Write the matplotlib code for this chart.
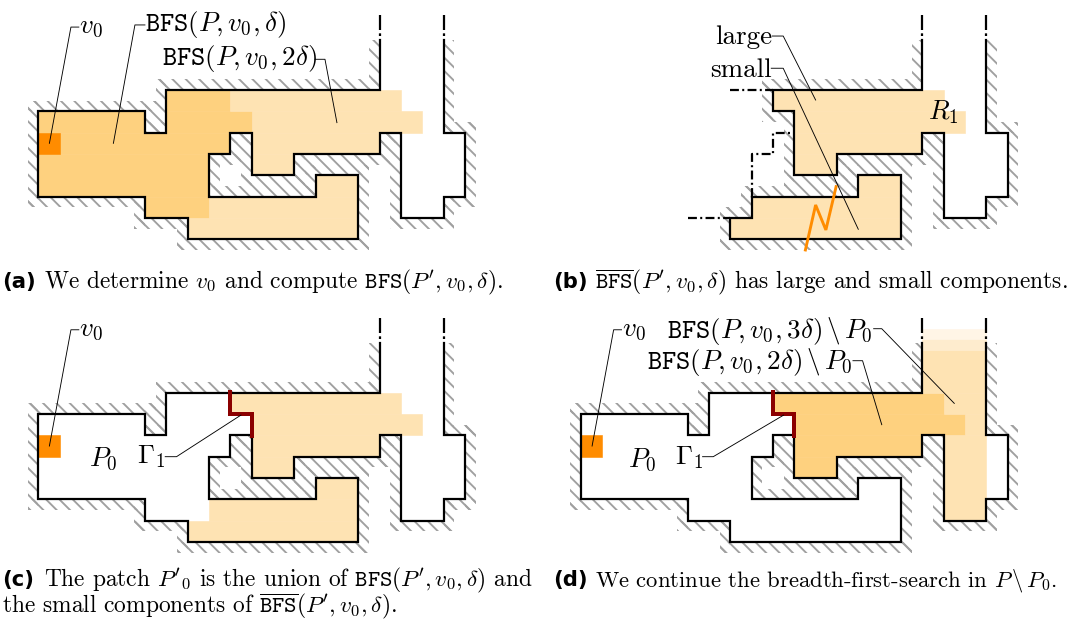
import matplotlib
matplotlib.use('Agg')
import matplotlib.pyplot as plt
from matplotlib.patches import Polygon, Rectangle
import numpy as np

plt.rcParams['mathtext.fontset'] = 'cm'
plt.rcParams['hatch.linewidth'] = 1.7
plt.rcParams['lines.scale_dashes'] = False

W, H, DPI = 1067, 619, 80
U = 21.33  # one grid cell in pixels

# polygon P, open at the top corridor; the inside lies to the right when walking along it
WALL_X = [16, 16, 6, 6, 5, 5, 0, 0, 5, 5, 7, 7, 15, 15, 13, 13, 8, 8, 9, 9, 10, 10, 12, 12, 16, 16, 17, 17, 19, 19, 20, 20, 19, 19]
WALL_Y = [-2.35, 0, 0, 2, 2, 1, 1, 5, 5, 6, 6, 7, 7, 4, 4, 5, 5, 3, 3, 2, 2, 4, 4, 3, 3, 2, 2, 6, 6, 5, 5, 2, 2, -2.35]

# components of the complement in (b)
LARGE_X = [16, 16, 9, 9, 10, 10, 12, 12, 16, 16, 17, 17, 19, 19, 20, 20, 19, 19]
LARGE_Y = [-2.35, 0, 0, 1, 1, 4, 4, 3, 3, 2, 2, 6, 6, 5, 5, 2, 2, -2.35]
SMALL_X = [8, 8, 7, 7, 15, 15, 13, 13, 8]
SMALL_Y = [5, 6, 6, 7, 7, 4, 4, 5, 5]

# cut-off walls drawn dash-dotted in (b)
CUTS = [([7, 9], [0, 0]),
        ([8, 8, 9, 9, 10], [5, 3, 3, 2, 2]),
        ([5, 7], [6, 6])]

# cells (x0, y0, x1, y1)
BFS1 = [(6, 0, 9, 1), (0, 1, 5, 2), (6, 1, 10, 2), (0, 2, 9, 3), (0, 3, 8, 5), (5, 5, 8, 6)]
BFS2 = [(9, 0, 17, 1), (10, 1, 18, 2), (10, 2, 16, 3), (10, 3, 12, 4),
        (13, 4, 15, 5), (8, 5, 15, 6), (7, 6, 15, 7)]
BFS2_LARGE = BFS2[:4]
BFS3 = [(16, -2, 19, 0), (17, 0, 19, 1), (18, 1, 19, 2), (17, 2, 19, 6)]
FADE = [(16, -2.5, 19, -2), (16, -3, 19, -2.5)]
V0 = (0, 2, 1, 3)

GAMMA_X = [9, 9, 10, 10]
GAMMA_Y = [-0.05, 1, 1, 2.05]
ZIG_X = [11.96, 11.48, 11.0, 10.52]
ZIG_Y = [4.53, 6.56, 5.39, 7.5]

ORIGINS = {'a': (38.3, 90), 'b': (581, 90), 'c': (38.3, 392.7), 'd': (581, 392.7)}

C_DARK = '#fed17f'
C_LIGHT = '#fee3b3'
C_FADE = ['#feecce', '#fff5e6']
C_V0 = '#ff8c00'
C_HATCH = '#a0a0a0'
C_GAMMA = '#8b0000'

fig = plt.figure(figsize=(W / DPI, H / DPI), dpi=DPI)


def make_ax(x0, y0):
    gx0, gx1, gy0, gy1 = -1.7, 22.3, -4.2, 7.8
    left, right = x0 + gx0 * U, x0 + gx1 * U
    top, bottom = y0 + gy0 * U, y0 + gy1 * U
    ax = fig.add_axes([left / W, 1 - bottom / H, (right - left) / W, (bottom - top) / H])
    ax.set_xlim(gx0, gx1)
    ax.set_ylim(gy1, gy0)
    ax.axis('off')
    return ax


def hatch_along(ax, xs, ys, closed):
    pts = np.array(list(zip(xs, ys)), float)
    n = len(pts) - 1
    for i in range(n):
        p, q = pts[i], pts[i + 1]
        d = (q - p) / np.linalg.norm(q - p)
        nrm = np.array([-d[1], d[0]])
        e0 = 0 if (not closed and i == 0) else 0.5
        e1 = 0 if (not closed and i == n - 1) else 0.5
        a, b = p - e0 * d, q + e1 * d
        ax.add_patch(Polygon([a, b, b + 0.5 * nrm, a + 0.5 * nrm], closed=True, fill=False,
                             hatch='\\\\', edgecolor=C_HATCH, linewidth=0, zorder=1))
    ax.add_patch(Polygon(pts, closed=True, facecolor='white', edgecolor='none', zorder=2))


def cells(ax, rects, color, z=3):
    for x0, y0, x1, y1 in rects:
        ax.add_patch(Rectangle((x0, y0), x1 - x0, y1 - y0, facecolor=color,
                               edgecolor=color, linewidth=0.5, zorder=z))


def wall(ax, xs, ys):
    ax.plot(xs, ys, color='k', lw=2, solid_joinstyle='miter', solid_capstyle='projecting', zorder=6)


def corridor_tops(ax):
    for x in (16, 19):
        ax.plot([x, x], [-3.52, -2.35], color='k', lw=2, dashes=[13.5, 3, 2.4, 3.6],
                dash_capstyle='butt', zorder=6)


def leader(ax, xs, ys):
    ax.plot(xs, ys, color='k', lw=0.8, zorder=8)


LBL = 24.4
def label(ax, x, y, s, ha='left', family='cmr10'):
    ax.text(x, y, s, ha=ha, va='center', fontsize=LBL, family=family, zorder=9)


def v0_label(ax):
    label(ax, 1.9, -2.95, r'$v_0$')
    leader(ax, [1.9, 1.53, 0.52], [-2.95, -2.95, 2.5])


# (a)
ax = make_ax(*ORIGINS['a'])
hatch_along(ax, WALL_X, WALL_Y, False)
cells(ax, BFS1, C_DARK)
cells(ax, BFS2, C_LIGHT)
cells(ax, [V0], C_V0, 4)
wall(ax, WALL_X, WALL_Y)
corridor_tops(ax)
v0_label(ax)
label(ax, 5.0, -3.05, r'$\mathtt{BFS}(P, v_0, \delta)$')
leader(ax, [5.0, 4.53, 3.52], [-3.05, -3.05, 2.5])
label(ax, 5.78, -1.48, r'$\mathtt{BFS}(P, v_0, 2\delta)$')
leader(ax, [12.97, 13.44, 14.0], [-1.44, -1.44, 1.53])

# (b)
ax = make_ax(*ORIGINS['b'])
hatch_along(ax, LARGE_X, LARGE_Y, False)
hatch_along(ax, SMALL_X, SMALL_Y, True)
cells(ax, BFS2, C_LIGHT)
wall(ax, LARGE_X, LARGE_Y)
wall(ax, SMALL_X, SMALL_Y)
for xs, ys in CUTS:
    ax.plot(xs, ys, color='k', lw=2, dashes=[8, 3, 1.8, 3], zorder=6)
corridor_tops(ax)
ax.plot(ZIG_X, ZIG_Y, color=C_V0, lw=2.6, zorder=7, solid_joinstyle='miter')
label(ax, 8.95, -2.5, 'large', ha='right')
leader(ax, [8.97, 9.48, 11.0], [-2.53, -2.53, 0.47])
label(ax, 8.92, -0.95, 'small', ha='right')
leader(ax, [8.92, 9.48, 13.0], [-1.02, -1.02, 6.53])
label(ax, 17.0, 1.05, r'$R_1$', ha='center')

# (c)
ax = make_ax(*ORIGINS['c'])
hatch_along(ax, WALL_X, WALL_Y, False)
cells(ax, BFS2, C_LIGHT)
cells(ax, [V0], C_V0, 4)
wall(ax, WALL_X, WALL_Y)
corridor_tops(ax)
ax.plot(GAMMA_X, GAMMA_Y, color=C_GAMMA, lw=3.6, zorder=7, solid_joinstyle='miter')
v0_label(ax)
label(ax, 3.05, 3.1, r'$P_0$', ha='center')
label(ax, 5.3, 3.0, r'$\Gamma_1$', ha='center')
leader(ax, [5.95, 6.48, 9.5], [3.0, 3.0, 1.05])

# (d)
ax = make_ax(*ORIGINS['d'])
hatch_along(ax, WALL_X, WALL_Y, False)
cells(ax, BFS2_LARGE, C_DARK)
cells(ax, BFS3, C_LIGHT)
cells(ax, FADE[:1], C_FADE[0])
cells(ax, FADE[1:], C_FADE[1])
cells(ax, [V0], C_V0, 4)
wall(ax, WALL_X, WALL_Y)
corridor_tops(ax)
ax.plot(GAMMA_X, GAMMA_Y, color=C_GAMMA, lw=3.6, zorder=7, solid_joinstyle='miter')
v0_label(ax)
label(ax, 4.02, -2.9, r'$\mathtt{BFS}(P, v_0, 3\delta)\,\backslash\,P_0$')
leader(ax, [13.72, 14.1, 17.5], [-3.0, -3.0, 0.5])
label(ax, 3.08, -1.45, r'$\mathtt{BFS}(P, v_0, 2\delta)\,\backslash\,P_0$')
leader(ax, [12.75, 13.2, 14.1], [-1.5, -1.5, 1.5])
label(ax, 2.88, 3.15, r'$P_0$', ha='center')
label(ax, 5.07, 3.05, r'$\Gamma_1$', ha='center')
leader(ax, [5.7, 6.2, 9.5], [3.0, 3.0, 1.05])

# captions
CAP = 21.1
def caption(x, y, tag, s, size=CAP):
    fig.text(x / W, 1 - y / H, tag, fontsize=19, fontweight='bold', family='DejaVu Sans', va='baseline')
    fig.text((x + 42) / W, 1 - y / H, s, fontsize=size, family='cmr10', va='baseline')

caption(2, 288, '(a)', r"We determine $v_0$ and compute $\mathtt{BFS}(P', v_0, \delta)$.")
caption(553, 288, '(b)', r"$\overline{\mathtt{BFS}}(P', v_0, \delta)$ has large and small components.")
caption(2, 586, '(c)', r"The patch ${P'}_0$ is the union of $\mathtt{BFS}(P', v_0, \delta)$ and")
fig.text(2 / W, 1 - 612 / H, r"the small components of $\overline{\mathtt{BFS}}(P', v_0, \delta)$.",
         fontsize=CAP, family='cmr10', va='baseline')
caption(553, 586, '(d)', r"We continue the breadth-first-search in $P\,\backslash\,P_0$.", size=20.4)

fig.savefig('out.png', dpi=DPI)
